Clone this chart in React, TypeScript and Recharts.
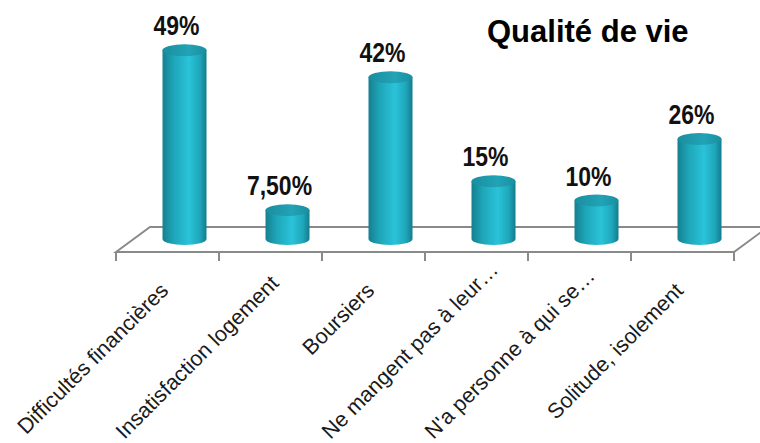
import React from "react";
import { BarChart, Bar, XAxis, YAxis, LabelList } from "recharts";

const categories = [
  "Difficultés financières",
  "Insatisfaction logement",
  "Boursiers",
  "Ne mangent pas à leur…",
  "N'a personne à qui se…",
  "Solitude, isolement",
];
const values = [49, 7.5, 42, 15, 10, 26];
const valueLabels = ["49%", "7,50%", "42%", "15%", "10%", "26%"];
const title = "Qualité de vie";

const data = categories.map((name, i) => ({
  name,
  value: values[i],
  label: valueLabels[i],
}));

// layout
const W = 760;
const H = 443;
const PLOT_LEFT = 116;
const PLOT_RIGHT = 734;
const PLOT_TOP = 8;
const PLOT_BOTTOM = 239;
const XAXIS_H = 30;
const DEPTH_X = 34;
const DEPTH_Y = 25;
const FLOOR_FRONT = 252;
const BAR_SHIFT = 16.5; // bars sit half way into the floor depth
const ELLIPSE_RY = 6;

const TICK_FONT = 21.5;
const TICK_FAMILY = "'Liberation Sans', Arial, sans-serif";
const TICK_BASE_Y = 292;
const TICK_LIMIT_Y = 440; // rotated labels are pushed up so they stay inside

const floorColor = "#8a8a8a";

let measureCtx: CanvasRenderingContext2D | null = null;
function textWidth(s: string) {
  if (!measureCtx) measureCtx = document.createElement("canvas").getContext("2d");
  if (!measureCtx) return s.length * TICK_FONT * 0.5;
  measureCtx.font = `${TICK_FONT}px "Liberation Sans", Arial, sans-serif`;
  return measureCtx.measureText(s).width;
}

function Cylinder(props: any) {
  const { x, y, width, height } = props;
  if (height == null || width == null) return null;
  const left = x + BAR_SHIFT;
  const rx = width / 2;
  const cx = left + rx;
  const bottom = y + height;
  const d = `M ${left} ${y} L ${left} ${bottom} A ${rx} ${ELLIPSE_RY} 0 0 0 ${left + width} ${bottom} L ${left + width} ${y} Z`;
  return (
    <g>
      <path d={d} fill="url(#cylBody)" />
      <ellipse cx={cx} cy={y} rx={rx} ry={ELLIPSE_RY} fill="url(#cylTop)" />
    </g>
  );
}

function ValueLabel(props: any) {
  const { x, y, width, value } = props;
  const cx = x + width / 2 + BAR_SHIFT - 8;
  return (
    <g transform={`translate(${cx}, ${y - 15}) scale(0.82, 1)`}>
      <text
        textAnchor="middle"
        fontFamily="'Liberation Sans', Arial, sans-serif"
        fontWeight="bold"
        fontSize={28}
        fill="#111"
      >
        {value}
      </text>
    </g>
  );
}

function CategoryTick(props: any) {
  const { x, payload } = props;
  const run = textWidth(payload.value) * Math.SQRT1_2;
  const over = Math.max(0, TICK_BASE_Y + run - TICK_LIMIT_Y);
  return (
    <g transform={`translate(${x + 2 + over}, ${TICK_BASE_Y - over})`}>
      <text
        textAnchor="end"
        transform="rotate(-45)"
        fontFamily={TICK_FAMILY}
        fontSize={TICK_FONT}
        fill="#1a1a1a"
      >
        {payload.value}
      </text>
    </g>
  );
}

function Floor() {
  const band = (PLOT_RIGHT - PLOT_LEFT) / categories.length;
  const ticks = Array.from({ length: categories.length + 1 }, (_, i) => PLOT_LEFT + band * i);
  const back = FLOOR_FRONT - DEPTH_Y;
  return (
    <svg width={W} height={H} style={{ position: "absolute", left: 0, top: 0 }}>
      <polygon
        points={`${PLOT_LEFT},${FLOOR_FRONT} ${PLOT_LEFT + DEPTH_X},${back} ${PLOT_RIGHT + DEPTH_X},${back} ${PLOT_RIGHT},${FLOOR_FRONT}`}
        fill="none"
        stroke={floorColor}
        strokeWidth={2}
      />
      {ticks.map((tx) => (
        <line key={tx} x1={tx} x2={tx} y1={FLOOR_FRONT} y2={FLOOR_FRONT + 9} stroke={floorColor} strokeWidth={2} />
      ))}
      <text
        x={487}
        y={42}
        fontFamily="'Liberation Sans', Arial, sans-serif"
        fontWeight="bold"
        fontSize={31}
        fill="#000"
      >
        {title}
      </text>
    </svg>
  );
}

export default function App() {
  return (
    <div style={{ position: "absolute", left: 0, top: 0, width: W, height: H, background: "#fff" }}>
      <Floor />
      <div style={{ position: "absolute", left: 0, top: 0 }}>
        <BarChart
          width={W}
          height={H}
          data={data}
          margin={{ top: PLOT_TOP, right: W - PLOT_RIGHT, left: PLOT_LEFT, bottom: H - PLOT_BOTTOM - XAXIS_H }}
        >
          <defs>
            <linearGradient id="cylBody" x1="0" y1="0" x2="1" y2="0">
              <stop offset="0%" stopColor="#15808f" />
              <stop offset="25%" stopColor="#1ea5b8" />
              <stop offset="60%" stopColor="#2ac3d9" />
              <stop offset="85%" stopColor="#1fa6ba" />
              <stop offset="100%" stopColor="#137c8c" />
            </linearGradient>
            <linearGradient id="cylTop" x1="0" y1="0" x2="1" y2="0">
              <stop offset="0%" stopColor="#1a8e9f" />
              <stop offset="60%" stopColor="#22a3b6" />
              <stop offset="100%" stopColor="#1a8fa0" />
            </linearGradient>
          </defs>
          <XAxis
            dataKey="name"
            height={XAXIS_H}
            axisLine={false}
            tickLine={false}
            interval={0}
            tick={<CategoryTick />}
          />
          <YAxis hide domain={[0, 60]} />
          <Bar dataKey="value" barSize={44} shape={<Cylinder />} isAnimationActive={false}>
            <LabelList dataKey="label" content={<ValueLabel />} />
          </Bar>
        </BarChart>
      </div>
    </div>
  );
}
